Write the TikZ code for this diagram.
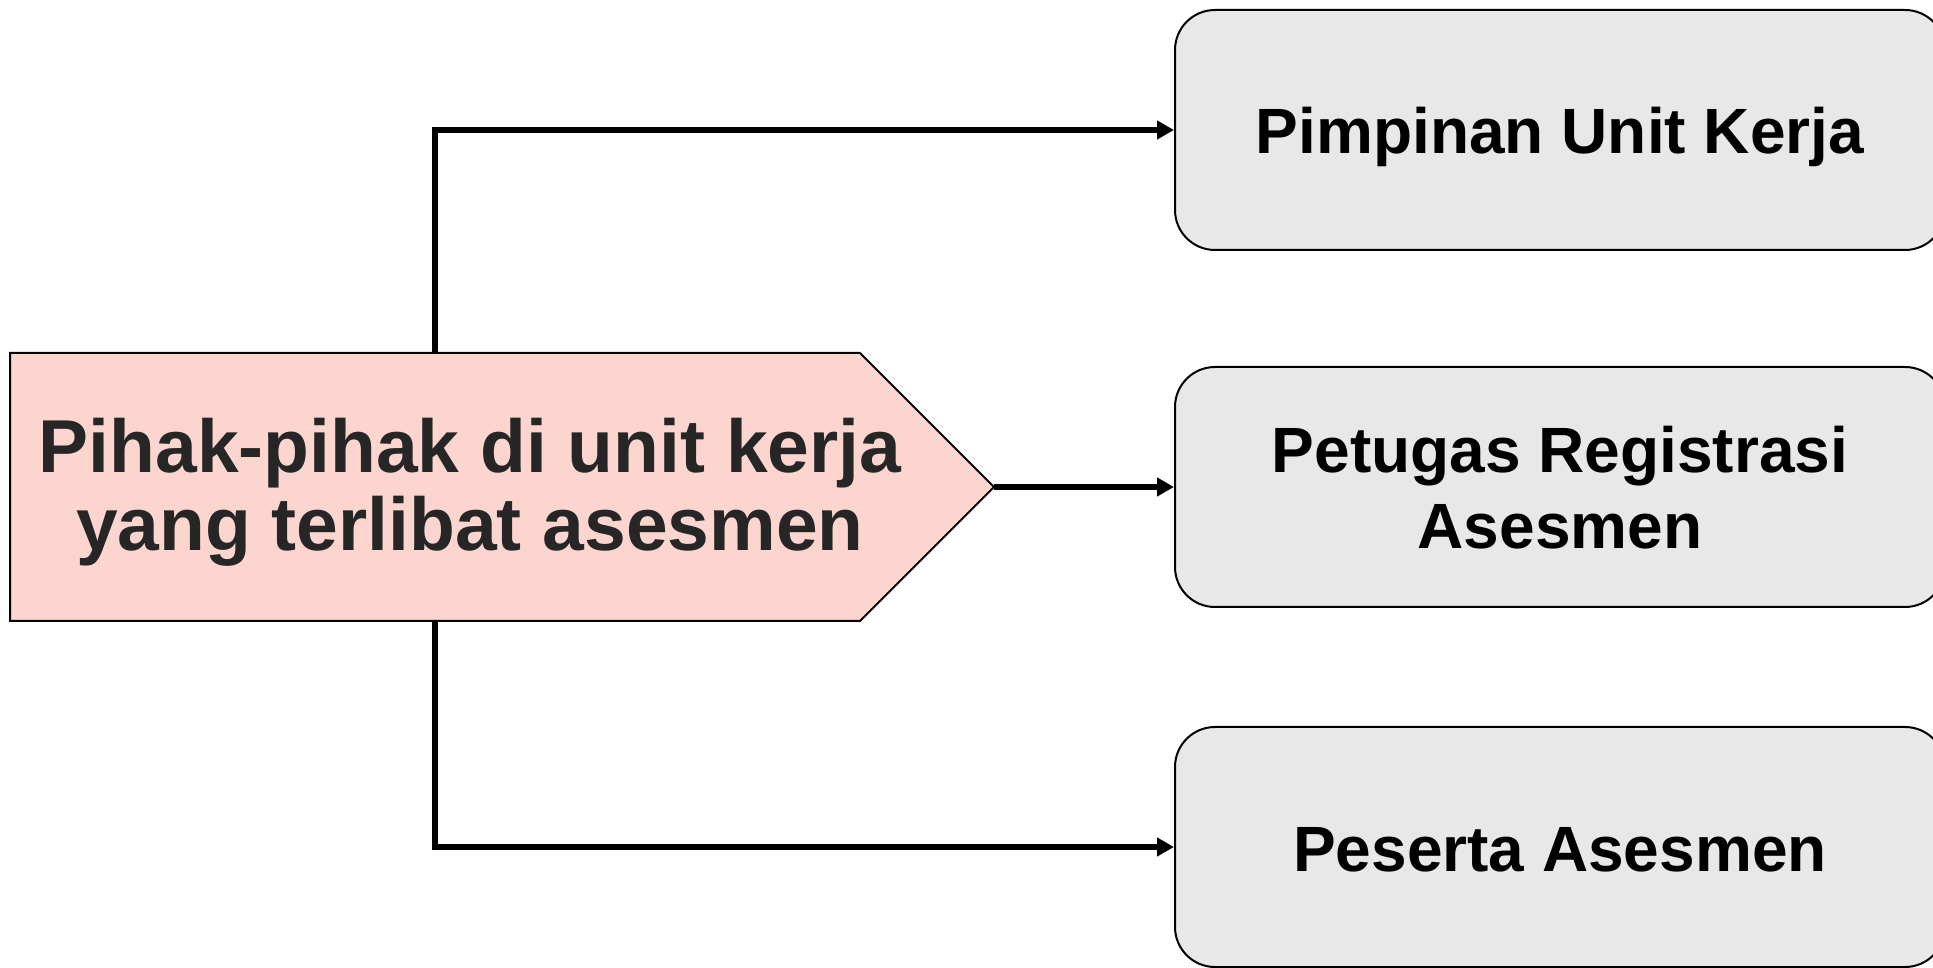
\documentclass[tikz,border=0pt]{standalone}
\usepackage{fontspec}
\setmainfont{Liberation Sans}
\usetikzlibrary{arrows.meta}
\definecolor{pinkfill}{HTML}{FDD5CF}
\definecolor{boxfill}{HTML}{E8E8E8}
\definecolor{darktext}{HTML}{262626}
\tikzset{
  rolebox/.style={draw=black, line width=2pt, fill=boxfill, rounded corners=40pt,
    minimum width=770pt, minimum height=240pt, align=center, inner sep=0pt,
    text depth=0pt, font=\fontsize{64}{76}\selectfont\bfseries},
  link/.style={draw=black, line width=5.5pt,
    -{Triangle[length=17pt,width=18pt]}},
}
\begin{document}
\begin{tikzpicture}[x=1pt,y=1pt]
  \useasboundingbox (0,0) rectangle (1933,967);
  % source arrow shape
  \draw[line width=2pt, fill=pinkfill, line join=miter]
    (10,614) -- (860,614) -- (994,480) -- (860,346) -- (10,346) -- cycle;
  \node[align=center, text=darktext, inner sep=0pt,
        font=\fontsize{75}{78}\selectfont\bfseries] (src) at (470,475)
    {Pihak-pihak di unit kerja\\yang terlibat asesmen};
  \coordinate (srctop) at (435,614);
  \coordinate (srcbot) at (435,346);
  \coordinate (srctip) at (994,480);
  % target boxes
  \node[rolebox] (b1) at (1560,837) {Pimpinan Unit Kerja};
  \node[rolebox] (b2) at (1560,480) {Petugas Registrasi\\Asesmen};
  \node[rolebox, text height=48pt, yshift=-3pt] (b3) at (1560,123) {Peserta Asesmen};
  % connectors
  \draw[link] (srctop) |- (b1.west);
  \draw[link] (srctip) -- (b2.west);
  \draw[link] (srcbot) |- (b3.west);
\end{tikzpicture}
\end{document}
